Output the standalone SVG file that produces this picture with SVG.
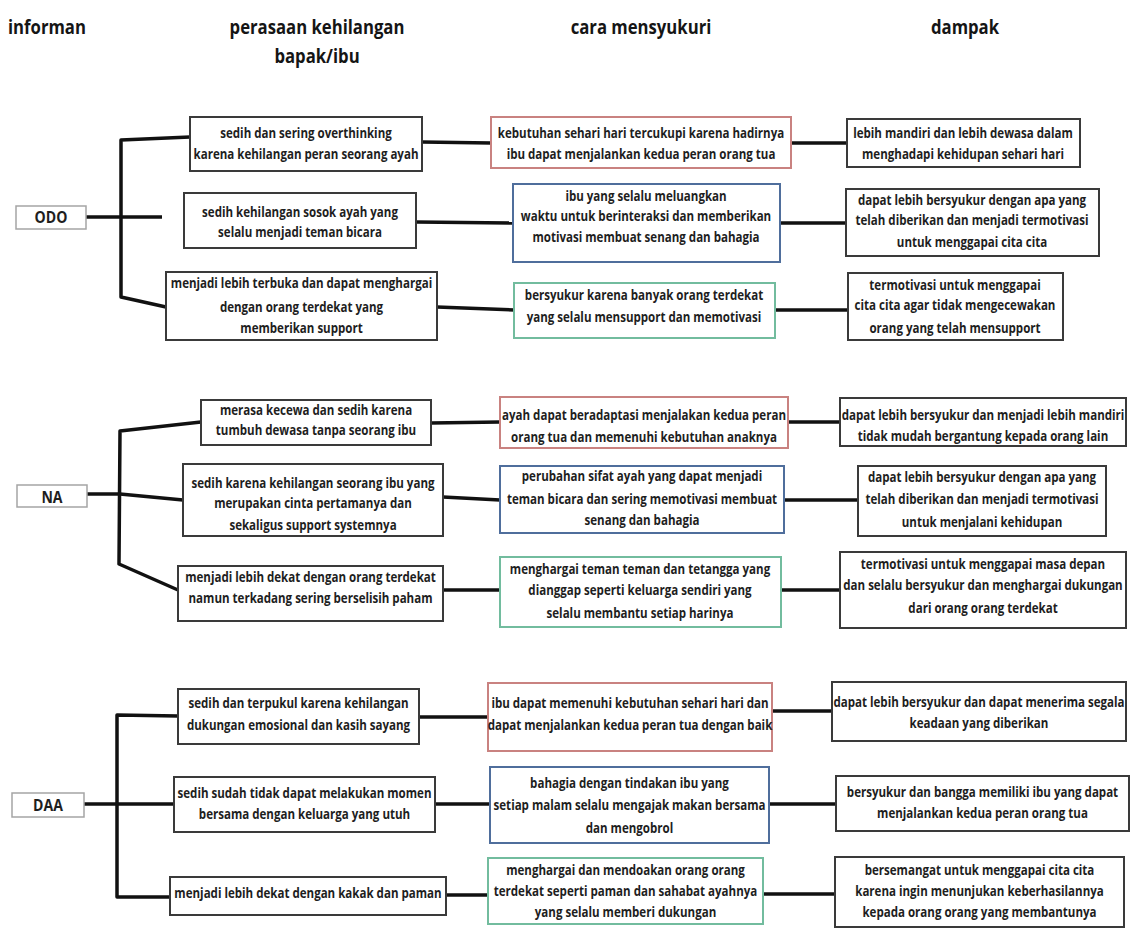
<svg xmlns="http://www.w3.org/2000/svg" width="1130" height="931" viewBox="0 0 1130 931">
<style>
.t{font-family:"Open Sans","Liberation Sans",sans-serif;font-weight:700;font-size:15px;fill:#1e1e1e;text-anchor:middle}
.h{font-family:"Open Sans","Liberation Sans",sans-serif;font-weight:700;font-size:19px;fill:#151515;text-anchor:middle}
.l{font-family:"Open Sans","Liberation Sans",sans-serif;font-weight:700;font-size:16px;fill:#1e1e1e;text-anchor:middle}
.b{fill:#fff;stroke:#3a3a3a;stroke-width:2}
.red{fill:#fff;stroke:#c98280;stroke-width:2}
.blue{fill:#fff;stroke:#4f6e9c;stroke-width:2}
.green{fill:#fff;stroke:#72bc9e;stroke-width:2}
.lb{fill:#fff;stroke:#a5a5a5;stroke-width:1.5}
.c{fill:none;stroke:#111;stroke-width:3.5;stroke-linejoin:round}
</style>
<rect width="1130" height="931" fill="#fff"/>
<g id="headers">
<text class="h" style="text-anchor:start" transform="translate(8,0) scale(0.88,1)"><tspan x="0" y="34">informan</tspan></text>
<text class="h" transform="translate(317,0) scale(0.88,1)"><tspan x="0" y="34">perasaan kehilangan</tspan><tspan x="0" y="63">bapak/ibu</tspan></text>
<text class="h" transform="translate(641,0) scale(0.88,1)"><tspan x="0" y="34">cara mensyukuri</tspan></text>
<text class="h" transform="translate(965,0) scale(0.88,1)"><tspan x="0" y="34">dampak</tspan></text>
</g>
<g id="connectors">
<path class="c" d="M86,217 H162"/>
<path class="c" d="M190,137 L121,140 L121,297 L166,307"/>
<path class="c" d="M422,142 L491,143"/>
<path class="c" d="M791,143 L847,143"/>
<path class="c" d="M416,222 L513,223"/>
<path class="c" d="M780,223 L846,223"/>
<path class="c" d="M437,307 L514,310"/>
<path class="c" d="M775,310 L848,310"/>
<path class="c" d="M87,494 L120,494 L183,500"/>
<path class="c" d="M201,422 L120,431 L119,564 L178,590"/>
<path class="c" d="M431,423 L500,422"/>
<path class="c" d="M788,422 L840,422"/>
<path class="c" d="M443,497 L500,500"/>
<path class="c" d="M784,500 L858,500"/>
<path class="c" d="M443,590 L500,590"/>
<path class="c" d="M781,590 L840,590"/>
<path class="c" d="M84,804 L174,804"/>
<path class="c" d="M178,716 L117,715 L117,897 L170,897"/>
<path class="c" d="M419,717 L488,717"/>
<path class="c" d="M772,711 L832,711"/>
<path class="c" d="M435,804 L490,804"/>
<path class="c" d="M769,804 L836,804"/>
<path class="c" d="M446,895 L488,895"/>
<path class="c" d="M763,894 L835,894"/>
</g>
<g id="odo">
<rect class="lb" x="16" y="206" width="70" height="23"/>
<text class="l" transform="translate(51,0) scale(0.88,1)"><tspan x="0" y="223">ODO</tspan></text>
</g>
<g id="odo-f1"><rect class="b" x="190" y="117" width="232" height="54"/>
<text class="t" transform="translate(306,0) scale(0.77,1)"><tspan x="0" y="138">sedih dan sering overthinking</tspan><tspan x="0" y="159">karena kehilangan peran seorang ayah</tspan></text></g>
<g id="odo-f2"><rect class="b" x="184" y="193" width="232" height="55"/>
<text class="t" transform="translate(300,0) scale(0.77,1)"><tspan x="0" y="217">sedih kehilangan sosok ayah yang</tspan><tspan x="0" y="237">selalu menjadi teman bicara</tspan></text></g>
<g id="odo-f3"><rect class="b" x="166" y="272" width="271" height="68"/>
<text class="t" transform="translate(301.5,0) scale(0.77,1)"><tspan x="0" y="288">menjadi lebih terbuka dan dapat menghargai</tspan><tspan x="0" y="312">dengan orang terdekat yang</tspan><tspan x="0" y="333">memberikan support</tspan></text></g>
<g id="odo-m1"><rect class="red" x="491" y="117" width="300" height="51"/>
<text class="t" transform="translate(641,0) scale(0.77,1)"><tspan x="0" y="138">kebutuhan sehari hari tercukupi karena hadirnya</tspan><tspan x="0" y="159">ibu dapat menjalankan kedua peran orang tua</tspan></text></g>
<g id="odo-m2"><rect class="blue" x="513" y="184" width="267" height="78"/>
<text class="t" transform="translate(646,0) scale(0.77,1)"><tspan x="0" y="201">ibu yang selalu meluangkan</tspan><tspan x="0" y="221">waktu untuk berinteraksi dan memberikan</tspan><tspan x="0" y="242">motivasi membuat senang dan bahagia</tspan></text></g>
<g id="odo-m3"><rect class="green" x="514" y="283" width="261" height="55"/>
<text class="t" transform="translate(644,0) scale(0.77,1)"><tspan x="0" y="300">bersyukur karena banyak orang terdekat</tspan><tspan x="0" y="322">yang selalu mensupport dan memotivasi</tspan></text></g>
<g id="odo-r1"><rect class="b" x="847" y="119" width="233" height="48"/>
<text class="t" transform="translate(963,0) scale(0.77,1)"><tspan x="0" y="138">lebih mandiri dan lebih dewasa dalam</tspan><tspan x="0" y="159">menghadapi kehidupan sehari hari</tspan></text></g>
<g id="odo-r2"><rect class="b" x="846" y="189" width="253" height="67"/>
<text class="t" transform="translate(972,0) scale(0.77,1)"><tspan x="0" y="205">dapat lebih bersyukur dengan apa yang</tspan><tspan x="0" y="225">telah diberikan dan menjadi termotivasi</tspan><tspan x="0" y="247">untuk menggapai cita cita</tspan></text></g>
<g id="odo-r3"><rect class="b" x="848" y="273" width="215" height="67"/>
<text class="t" transform="translate(955,0) scale(0.77,1)"><tspan x="0" y="290">termotivasi untuk menggapai</tspan><tspan x="0" y="310">cita cita agar tidak mengecewakan</tspan><tspan x="0" y="333">orang yang telah mensupport</tspan></text></g>
<g id="na">
<rect class="lb" x="17" y="485" width="70" height="22"/>
<text class="l" transform="translate(52,0) scale(0.88,1)"><tspan x="0" y="503">NA</tspan></text>
</g>
<g id="na-f1"><rect class="b" x="201" y="400" width="230" height="45"/>
<text class="t" transform="translate(316,0) scale(0.77,1)"><tspan x="0" y="415">merasa kecewa dan sedih karena</tspan><tspan x="0" y="435">tumbuh dewasa tanpa seorang ibu</tspan></text></g>
<g id="na-f2"><rect class="b" x="183" y="464" width="260" height="72"/>
<text class="t" transform="translate(313,0) scale(0.77,1)"><tspan x="0" y="488">sedih karena kehilangan seorang ibu yang</tspan><tspan x="0" y="508">merupakan cinta pertamanya dan</tspan><tspan x="0" y="530">sekaligus support systemnya</tspan></text></g>
<g id="na-f3"><rect class="b" x="178" y="566" width="265" height="55"/>
<text class="t" transform="translate(310.5,0) scale(0.77,1)"><tspan x="0" y="582">menjadi lebih dekat dengan orang terdekat</tspan><tspan x="0" y="603">namun terkadang sering berselisih paham</tspan></text></g>
<g id="na-m1"><rect class="red" x="500" y="397" width="288" height="51"/>
<text class="t" transform="translate(644,0) scale(0.77,1)"><tspan x="0" y="420">ayah dapat beradaptasi menjalakan kedua peran</tspan><tspan x="0" y="442">orang tua dan memenuhi kebutuhan anaknya</tspan></text></g>
<g id="na-m2"><rect class="blue" x="500" y="466" width="284" height="67"/>
<text class="t" transform="translate(642,0) scale(0.77,1)"><tspan x="0" y="481">perubahan sifat ayah yang dapat menjadi</tspan><tspan x="0" y="504">teman bicara dan sering memotivasi membuat</tspan><tspan x="0" y="525">senang dan bahagia</tspan></text></g>
<g id="na-m3"><rect class="green" x="500" y="557" width="281" height="70"/>
<text class="t" transform="translate(640,0) scale(0.77,1)"><tspan x="0" y="574">menghargai teman teman dan tetangga yang</tspan><tspan x="0" y="595">dianggap seperti keluarga sendiri yang</tspan><tspan x="0" y="618">selalu membantu setiap harinya</tspan></text></g>
<g id="na-r1"><rect class="b" x="840" y="398" width="286" height="48"/>
<text class="t" transform="translate(983,0) scale(0.77,1)"><tspan x="0" y="420">dapat lebih bersyukur dan menjadi lebih mandiri</tspan><tspan x="0" y="441">tidak mudah bergantung kepada orang lain</tspan></text></g>
<g id="na-r2"><rect class="b" x="858" y="466" width="248" height="70"/>
<text class="t" transform="translate(982,0) scale(0.77,1)"><tspan x="0" y="482">dapat lebih bersyukur dengan apa yang</tspan><tspan x="0" y="504">telah diberikan dan menjadi termotivasi</tspan><tspan x="0" y="527">untuk menjalani kehidupan</tspan></text></g>
<g id="na-r3"><rect class="b" x="840" y="552" width="286" height="76"/>
<text class="t" transform="translate(983,0) scale(0.77,1)"><tspan x="0" y="569">termotivasi untuk menggapai masa depan</tspan><tspan x="0" y="590">dan selalu bersyukur dan menghargai dukungan</tspan><tspan x="0" y="613">dari orang orang terdekat</tspan></text></g>
<g id="daa">
<rect class="lb" x="12" y="793" width="72" height="24"/>
<text class="l" transform="translate(48,0) scale(0.88,1)"><tspan x="0" y="811">DAA</tspan></text>
</g>
<g id="daa-f1"><rect class="b" x="178" y="689" width="241" height="55"/>
<text class="t" transform="translate(298.5,0) scale(0.77,1)"><tspan x="0" y="708">sedih dan terpukul karena kehilangan</tspan><tspan x="0" y="730">dukungan emosional dan kasih sayang</tspan></text></g>
<g id="daa-f2"><rect class="b" x="174" y="777" width="261" height="55"/>
<text class="t" transform="translate(304.5,0) scale(0.77,1)"><tspan x="0" y="798">sedih sudah tidak dapat melakukan momen</tspan><tspan x="0" y="819">bersama dengan keluarga yang utuh</tspan></text></g>
<g id="daa-f3"><rect class="b" x="170" y="877" width="276" height="38"/>
<text class="t" transform="translate(308,0) scale(0.77,1)"><tspan x="0" y="898">menjadi lebih dekat dengan kakak dan paman</tspan></text></g>
<g id="daa-m1"><rect class="red" x="488" y="683" width="284" height="68"/>
<text class="t" transform="translate(630,0) scale(0.77,1)"><tspan x="0" y="708">ibu dapat memenuhi kebutuhan sehari hari dan</tspan><tspan x="0" y="730">dapat menjalankan kedua peran tua dengan baik</tspan></text></g>
<g id="daa-m2"><rect class="blue" x="490" y="767" width="279" height="76"/>
<text class="t" transform="translate(629.5,0) scale(0.77,1)"><tspan x="0" y="788">bahagia dengan tindakan ibu yang</tspan><tspan x="0" y="810">setiap malam selalu mengajak makan bersama</tspan><tspan x="0" y="833">dan mengobrol</tspan></text></g>
<g id="daa-m3"><rect class="green" x="488" y="858" width="275" height="66"/>
<text class="t" transform="translate(625.5,0) scale(0.77,1)"><tspan x="0" y="875">menghargai dan mendoakan orang orang</tspan><tspan x="0" y="896">terdekat seperti paman dan sahabat ayahnya</tspan><tspan x="0" y="917">yang selalu memberi dukungan</tspan></text></g>
<g id="daa-r1"><rect class="b" x="832" y="682" width="294" height="59"/>
<text class="t" transform="translate(979,0) scale(0.77,1)"><tspan x="0" y="707">dapat lebih bersyukur dan dapat menerima segala</tspan><tspan x="0" y="728">keadaan yang diberikan</tspan></text></g>
<g id="daa-r2"><rect class="b" x="836" y="776" width="293" height="55"/>
<text class="t" transform="translate(982.5,0) scale(0.77,1)"><tspan x="0" y="797">bersyukur dan bangga memiliki ibu yang dapat</tspan><tspan x="0" y="818">menjalankan kedua peran orang tua</tspan></text></g>
<g id="daa-r3"><rect class="b" x="835" y="857" width="289" height="70"/>
<text class="t" transform="translate(979.5,0) scale(0.77,1)"><tspan x="0" y="875">bersemangat untuk menggapai cita cita</tspan><tspan x="0" y="896">karena ingin menunjukan keberhasilannya</tspan><tspan x="0" y="917">kepada orang orang yang membantunya</tspan></text></g>
</svg>
